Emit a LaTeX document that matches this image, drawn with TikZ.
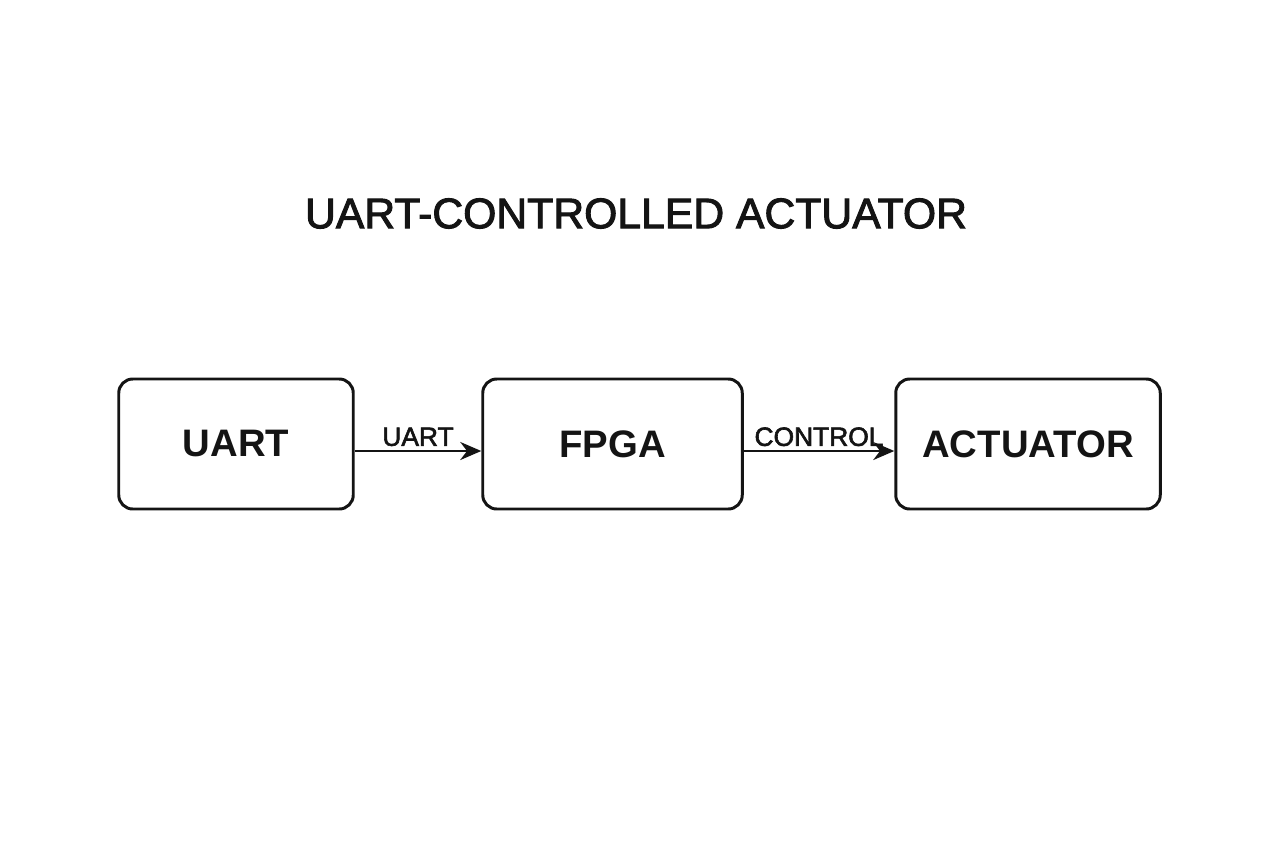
\documentclass[tikz,border=0pt]{standalone}
\usepackage{fontspec}
\setmainfont{Liberation Sans}
\newfontfamily\mediumfont[FakeBold=2.2]{Liberation Sans}
\usepackage{tikz}
\usetikzlibrary{arrows.meta}

\tikzset{
  blockbox/.style={draw=black!92, line width=1.7pt, rounded corners=0.28cm,
    minimum height=2.6cm, font=\bfseries\fontsize{21.8}{26}\selectfont, text=black!92},
  sigarrow/.style={-{Stealth[length=0.42cm,width=0.36cm]}, line width=1.6pt, draw=black!92},
  siglabel/.style={font=\mediumfont\fontsize{15}{18}\selectfont, text=black!92, inner sep=2pt}
}

\begin{document}
\begin{tikzpicture}[>=Stealth]

\useasboundingbox[fill=white] (0,0) rectangle (25.6,-17.06);

\node[font=\mediumfont\fontsize{24.3}{28}\selectfont, text=black!92] (title) at (12.72,-4.27) {UART-CONTROLLED ACTUATOR};

\node[blockbox, minimum width=4.69cm] (uart)     at (4.72,-8.88)  {UART};
\node[blockbox, minimum width=5.19cm] (fpga)     at (12.25,-8.88) {FPGA};
\node[blockbox, minimum width=5.29cm] (actuator) at (20.56,-8.88) {ACTUATOR};

%-- signal arrows sit a little below the box centres
\draw[sigarrow] ([yshift=-0.14cm]uart.east) -- ([yshift=-0.14cm]fpga.west)
  node[siglabel, midway, above] {UART};
\draw[sigarrow] ([yshift=-0.14cm]fpga.east) -- ([yshift=-0.14cm]actuator.west)
  node[siglabel, midway, above] {CONTROL};

\end{tikzpicture}
\end{document}
